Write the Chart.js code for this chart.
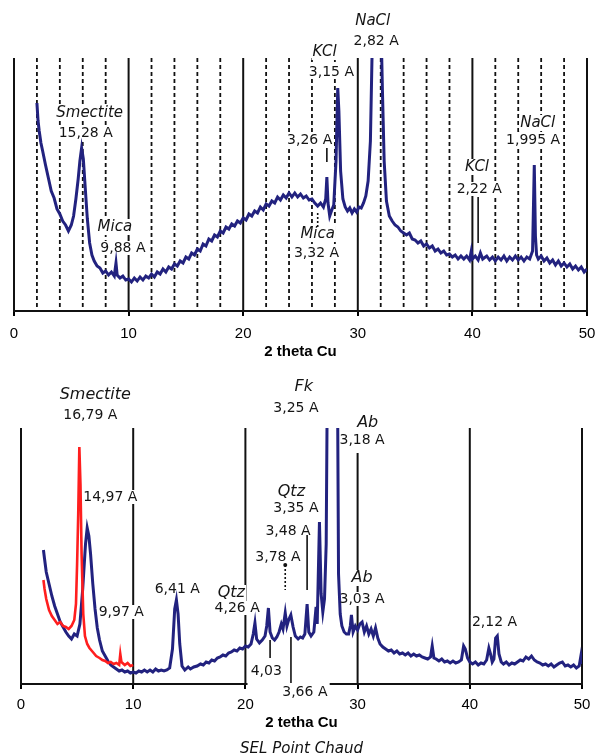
<!DOCTYPE html>
<html>
<head>
<meta charset="utf-8">
<script src="https://cdn.jsdelivr.net/npm/chart.js@4.4.1/dist/chart.umd.min.js"></script>
<style>
  html, body { margin: 0; padding: 0; background: #fff; }
  #top { position: absolute; left: 0; top: 0; width: 597px; height: 360px; }
  #bot { position: absolute; left: 0; top: 360px; width: 597px; height: 395px; }
</style>
</head>
<body>
<div id="top"><canvas id="topChart"></canvas></div>
<div id="bot"><canvas id="botChart"></canvas></div>
<script>
// x axis ticks (2 theta, degrees)
const xTicks = [0, 10, 20, 30, 40, 50];
const topDashed = [2, 4, 6, 8, 12, 14, 16, 18, 22, 24, 26, 28, 32, 34, 36, 38, 42, 44, 46, 48];

// upper pattern (salt sample), counts in arbitrary units
const topTheta = [2.0, 2.1, 2.2, 2.35, 2.5, 2.75, 3.0, 3.25, 3.5, 3.75, 4.0, 4.25, 4.5, 4.75, 5.0, 5.2, 5.4, 5.6, 5.75, 5.9,
  6.05, 6.2, 6.4, 6.6, 6.8, 7.0, 7.25, 7.5, 7.75, 8.0, 8.25, 8.5, 8.75, 8.9, 9.0, 9.25, 9.5, 9.75, 10.0, 10.25,
  10.5, 10.75, 11.0, 11.25, 11.5, 11.75, 12.0, 12.25, 12.5, 12.75, 13.0, 13.25, 13.5, 13.75, 14.0, 14.25, 14.5, 14.75, 15.0, 15.25,
  15.5, 15.75, 16.0, 16.25, 16.5, 16.75, 17.0, 17.25, 17.5, 17.75, 18.0, 18.25, 18.5, 18.75, 19.0, 19.25, 19.5, 19.75, 20.0, 20.25,
  20.5, 20.75, 21.0, 21.25, 21.5, 21.75, 22.0, 22.25, 22.5, 22.75, 23.0, 23.25, 23.5, 23.75, 24.0, 24.25, 24.5, 24.75, 25.0, 25.25,
  25.5, 25.75, 26.0, 26.25, 26.5, 26.75, 27.0, 27.2, 27.3, 27.4, 27.55, 27.7, 27.9, 28.1, 28.25, 28.35, 28.5, 28.7, 28.9, 29.1,
  29.3, 29.5, 29.7, 29.9, 30.1, 30.3, 30.5, 30.7, 30.9, 31.1, 31.25, 31.5, 31.75, 32.0, 32.15, 32.3, 32.5, 32.75, 33.0, 33.25,
  33.5, 33.75, 34.0, 34.25, 34.5, 34.75, 35.0, 35.25, 35.5, 35.75, 36.0, 36.25, 36.5, 36.75, 37.0, 37.25, 37.5, 37.75, 38.0, 38.25,
  38.5, 38.75, 39.0, 39.25, 39.5, 39.75, 39.9, 40.0, 40.25, 40.5, 40.7, 40.9, 41.25, 41.5, 41.75, 42.0, 42.25, 42.5, 42.75, 43.0,
  43.25, 43.5, 43.75, 44.0, 44.25, 44.5, 44.75, 45.0, 45.25, 45.4, 45.5, 45.6, 45.75, 46.0, 46.25, 46.5, 46.75, 47.0, 47.25, 47.5,
  47.75, 48.0, 48.25, 48.5, 48.75, 49.0, 49.25, 49.5, 49.75, 50.0];
const topCounts = [208, 190, 180, 168, 160, 146, 133, 120, 113, 102, 97, 90, 86, 80, 86, 95, 112, 132, 150, 163,
  152, 126, 92, 68, 56, 50, 45, 43, 38, 40, 36, 39, 35, 48, 36, 33, 35, 31, 32, 29,
  33, 30, 34, 31, 35, 33, 37, 34, 39, 37, 42, 39, 44, 42, 47, 45, 50, 48, 54, 52,
  58, 56, 62, 60, 67, 65, 72, 70, 76, 74, 80, 78, 84, 82, 87, 85, 90, 88, 93, 91,
  97, 95, 100, 98, 104, 101, 107, 105, 110, 108, 114, 111, 116, 113, 118, 114, 118, 114, 117, 113,
  115, 111, 112, 108, 105, 108, 104, 112, 134, 108, 95, 100, 106, 150, 223, 200, 140, 112, 104, 100,
  103, 98, 102, 99, 104, 103, 108, 115, 130, 170, 260, 320, 340, 300, 220, 150, 110, 95, 90, 86,
  84, 80, 78, 76, 78, 72, 71, 68, 70, 65, 67, 63, 65, 60, 62, 58, 60, 56, 57, 54,
  56, 52, 55, 52, 55, 51, 60, 52, 55, 51, 58, 52, 55, 51, 54, 50, 54, 51, 55, 50,
  54, 51, 55, 51, 54, 50, 54, 52, 60, 146, 75, 56, 52, 55, 50, 53, 48, 51, 46, 50,
  45, 48, 44, 47, 42, 45, 41, 44, 39, 42];

// lower pattern, blue trace
const blueTheta = [2.0, 2.1, 2.25, 2.5, 2.75, 3.0, 3.25, 3.5, 3.75, 4.0, 4.25, 4.5, 4.75, 5.0, 5.25, 5.5, 5.75, 5.9, 6.05, 6.2,
  6.4, 6.6, 6.8, 7.0, 7.25, 7.5, 7.75, 8.0, 8.25, 8.5, 8.75, 9.0, 9.25, 9.5, 9.75, 10.0, 10.25, 10.5, 10.75, 11.0,
  11.25, 11.5, 11.75, 12.0, 12.25, 12.5, 12.75, 13.0, 13.25, 13.5, 13.7, 13.85, 14.0, 14.15, 14.35, 14.6, 14.9, 15.1, 15.4, 15.7,
  16.0, 16.25, 16.5, 16.75, 17.0, 17.25, 17.5, 17.75, 18.0, 18.25, 18.5, 18.75, 19.0, 19.25, 19.5, 19.75, 20.0, 20.25, 20.5, 20.7,
  20.85, 21.0, 21.25, 21.5, 21.75, 21.9, 22.05, 22.2, 22.4, 22.6, 22.8, 23.0, 23.2, 23.35, 23.55, 23.7, 23.85, 24.05, 24.25, 24.45,
  24.7, 24.9, 25.1, 25.3, 25.5, 25.65, 25.85, 26.1, 26.3, 26.4, 26.6, 26.75, 26.9, 27.05, 27.2, 27.3, 27.5, 27.7, 27.85, 28.0,
  28.2, 28.3, 28.45, 28.6, 28.8, 29.0, 29.2, 29.35, 29.45, 29.6, 29.8, 30.0, 30.2, 30.4, 30.6, 30.8, 31.0, 31.2, 31.4, 31.6,
  31.8, 32.0, 32.25, 32.5, 32.75, 33.0, 33.25, 33.5, 33.75, 34.0, 34.25, 34.5, 34.75, 35.0, 35.25, 35.5, 35.75, 36.0, 36.25, 36.5,
  36.65, 36.8, 37.0, 37.25, 37.5, 37.75, 38.0, 38.25, 38.5, 38.75, 39.0, 39.25, 39.45, 39.6, 39.8, 40.0, 40.25, 40.5, 40.75, 41.0,
  41.25, 41.5, 41.7, 41.85, 42.0, 42.15, 42.3, 42.45, 42.6, 42.8, 43.0, 43.25, 43.5, 43.75, 44.0, 44.25, 44.5, 44.75, 45.0, 45.25,
  45.5, 45.75, 46.0, 46.25, 46.5, 46.75, 47.0, 47.25, 47.5, 47.75, 48.0, 48.25, 48.5, 48.75, 49.0, 49.25, 49.5, 49.75, 49.9, 50.0];
const blueCounts = [134, 125, 112, 100, 88, 78, 70, 62, 57, 52, 48, 45, 50, 48, 60, 95, 140, 156, 148, 130,
  100, 75, 56, 44, 33, 28, 23, 19, 17, 15, 13, 14, 12, 13, 11, 12, 11, 13, 12, 14,
  12, 14, 12, 15, 13, 14, 13, 14, 16, 35, 75, 84, 70, 40, 18, 14, 17, 15, 17, 18,
  20, 19, 22, 21, 24, 23, 26, 27, 29, 28, 31, 32, 34, 33, 36, 35, 38, 37, 40, 50,
  61, 45, 41, 44, 48, 58, 76, 52, 46, 44, 47, 52, 60, 55, 71, 58, 64, 69, 57, 48,
  45, 47, 46, 50, 80, 52, 48, 52, 77, 60, 162, 90, 72, 85, 140, 300, 330, 310, 300, 320,
  320, 110, 70, 58, 52, 50, 50, 58, 69, 52, 58, 54, 60, 62, 52, 58, 50, 55, 48, 56,
  46, 40, 37, 35, 33, 34, 31, 33, 30, 31, 29, 31, 28, 30, 28, 29, 27, 26, 25, 27,
  38, 26, 25, 23, 25, 22, 23, 21, 23, 21, 22, 24, 38, 35, 26, 22, 20, 22, 19, 21,
  20, 24, 36, 30, 22, 25, 46, 48, 30, 22, 20, 22, 19, 21, 20, 22, 24, 23, 27, 25,
  28, 24, 22, 21, 19, 20, 18, 20, 17, 19, 21, 22, 18, 19, 17, 19, 16, 18, 28, 20];

// lower pattern, red trace (low angles only)
const redTheta = [2.0, 2.1, 2.25, 2.5, 2.75, 3.0, 3.25, 3.5, 3.75, 4.0, 4.25, 4.5, 4.75, 4.9, 5.0, 5.1, 5.2, 5.3, 5.4, 5.55,
  5.7, 5.9, 6.1, 6.4, 6.7, 7.0, 7.25, 7.5, 7.75, 8.0, 8.25, 8.5, 8.75, 8.85, 8.95, 9.25, 9.5, 9.75, 10.0];
const redCounts = [104, 95, 85, 74, 68, 64, 60, 62, 58, 57, 55, 58, 64, 80, 120, 170, 237, 200, 130, 70,
  48, 40, 36, 32, 28, 26, 24, 23, 21, 22, 20, 21, 19, 30, 22, 19, 21, 18, 19];

const pts = (xs, ys) => xs.map((v, i) => ({ x: v, y: ys[i] }));

// annotation texts, placed in data units
const topLabels = [
  { t: 'Smectite', x: 6.6, y: 198, it: true },
  { t: '15,28 A', x: 6.26, y: 178 },
  { t: 'Mica', x: 8.8, y: 84, it: true },
  { t: '9,88 A', x: 9.5, y: 63 },
  { t: '3,26 A', x: 25.8, y: 171 },
  { t: 'Mica', x: 26.5, y: 77, it: true },
  { t: '3,32 A', x: 26.4, y: 58 },
  { t: 'KCl', x: 27.1, y: 259, it: true },
  { t: '3,15 A', x: 27.7, y: 239 },
  { t: 'NaCl', x: 31.3, y: 290, it: true },
  { t: '2,82 A', x: 31.6, y: 270 },
  { t: 'KCl', x: 40.4, y: 144, it: true },
  { t: '2,22 A', x: 40.6, y: 122 },
  { t: 'NaCl', x: 45.7, y: 188, it: true },
  { t: '1,995 A', x: 45.3, y: 171 }
];
const botLabels = [
  { t: 'Smectite', x: 6.62, y: 289, it: true },
  { t: '16,79 A', x: 6.18, y: 269 },
  { t: '14,97 A', x: 7.96, y: 187 },
  { t: '9,97 A', x: 8.94, y: 72 },
  { t: '6,41 A', x: 13.93, y: 95 },
  { t: 'Qtz', x: 18.75, y: 91, it: true },
  { t: '4,26 A', x: 19.27, y: 76 },
  { t: '4,03', x: 21.86, y: 13 },
  { t: '3,66 A', x: 25.3, y: -8 },
  { t: '3,78 A', x: 22.9, y: 127 },
  { t: '3,48 A', x: 23.8, y: 153 },
  { t: 'Qtz', x: 24.1, y: 192, it: true },
  { t: '3,35 A', x: 24.5, y: 176 },
  { t: 'Fk', x: 25.2, y: 297, it: true },
  { t: '3,25 A', x: 24.5, y: 276 },
  { t: 'Ab', x: 30.9, y: 261, it: true },
  { t: '3,18 A', x: 30.4, y: 244 },
  { t: 'Ab', x: 30.4, y: 106, it: true },
  { t: '3,03 A', x: 30.4, y: 85 },
  { t: '2,12 A', x: 42.2, y: 62 }
];

// grid + leader lines for each panel
const topDecor = {
  grid: xTicks.map(v => ({ v: v })).concat(topDashed.map(v => ({ v: v, dash: true }))),
  axis: [[0, 50]],
  labels: topLabels,
  marks: [
    { x: 27.3, y1: 163, y2: 149 },
    { x: 26.5, y1: 98, y2: 83, dash: true },
    { x: 40.5, y1: 114, y2: 68 }
  ],
  numFont: '14px "DejaVu Sans"',
  itFont: 'italic 15px "DejaVu Sans"'
};
const botDecor = {
  grid: [{ v: 0 }, { v: 10 }, { v: 20 }, { v: 30, from: 231 }, { v: 40 }, { v: 50 }],
  axis: [[0, 20.1], [27.6, 50]],
  labels: botLabels,
  marks: [
    { x: 22.2, y1: 44, y2: 26 },
    { x: 24.06, y1: 47, y2: 1 },
    { x: 23.55, y1: 119, y2: 94, dash: true, dot: true },
    { x: 25.5, y1: 149, y2: 94 }
  ],
  numFont: '14px "DejaVu Sans"',
  itFont: 'italic 16px "DejaVu Sans"'
};

const makeDecor = (cfg) => ({
  id: 'decor',
  beforeDatasetsDraw(chart) {
    const { ctx, scales: { x, y } } = chart;
    ctx.save();
    ctx.strokeStyle = '#111';
    cfg.grid.forEach(g => {
      const px = x.getPixelForValue(g.v);
      ctx.lineWidth = g.dash ? 1.8 : 2;
      ctx.setLineDash(g.dash ? [4, 3] : []);
      ctx.beginPath();
      ctx.moveTo(px, y.getPixelForValue(g.from !== undefined ? g.from : y.max));
      ctx.lineTo(px, y.getPixelForValue(0));
      ctx.stroke();
    });
    // white boxes behind the texts break the grid lines
    ctx.setLineDash([]);
    ctx.fillStyle = '#fff';
    cfg.labels.forEach(l => {
      ctx.font = l.it ? cfg.itFont : cfg.numFont;
      const w = ctx.measureText(l.t).width;
      const h = l.it ? 16 : 14;
      ctx.fillRect(x.getPixelForValue(l.x) - w / 2 - 1, y.getPixelForValue(l.y) - h / 2, w + 2, h);
    });
    // x axis line
    ctx.lineWidth = 2;
    const by = chart.chartArea.bottom;
    cfg.axis.forEach(s => {
      ctx.beginPath();
      ctx.moveTo(x.getPixelForValue(s[0]) - 1, by);
      ctx.lineTo(x.getPixelForValue(s[1]) + 1, by);
      ctx.stroke();
    });
    ctx.restore();
  },
  afterDatasetsDraw(chart) {
    const { ctx, scales: { x, y } } = chart;
    ctx.save();
    ctx.strokeStyle = '#111';
    ctx.lineWidth = 1.6;
    cfg.marks.forEach(m => {
      const px = x.getPixelForValue(m.x);
      ctx.setLineDash(m.dash ? [2, 2] : []);
      ctx.beginPath();
      ctx.moveTo(px, y.getPixelForValue(m.y1));
      ctx.lineTo(px, y.getPixelForValue(m.y2));
      ctx.stroke();
      if (m.dot) {
        ctx.fillStyle = '#111';
        ctx.beginPath();
        ctx.arc(px, y.getPixelForValue(m.y1), 2, 0, Math.PI * 2);
        ctx.fill();
      }
    });
    ctx.setLineDash([]);
    ctx.fillStyle = '#151515';
    ctx.textAlign = 'center';
    ctx.textBaseline = 'middle';
    cfg.labels.forEach(l => {
      ctx.font = l.it ? cfg.itFont : cfg.numFont;
      ctx.fillText(l.t, x.getPixelForValue(l.x), y.getPixelForValue(l.y));
    });
    ctx.restore();
  }
});

const xScale = (title, height, titlePad, tickPad) => ({
  type: 'linear',
  min: 0,
  max: 50,
  ticks: { stepSize: 10, color: '#000', padding: tickPad, maxRotation: 0, font: { family: 'Liberation Sans', size: 15 } },
  grid: { drawOnChartArea: false, drawTicks: true, tickLength: 5, color: '#000', lineWidth: 2 },
  border: { display: false },
  title: { display: true, text: title, color: '#000', padding: { top: 0, bottom: titlePad },
    font: { family: 'Liberation Sans', size: 15, weight: 'bold' } },
  afterFit: (s) => {
    s.height = height;
    s.paddingLeft = 0;
    s.paddingRight = 0;
  }
});

new Chart(document.getElementById('topChart'), {
  type: 'line',
  data: {
    datasets: [{
      data: pts(topTheta, topCounts),
      borderColor: '#22227f',
      borderWidth: 3,
      pointRadius: 0,
      tension: 0
    }]
  },
  options: {
    animation: false,
    responsive: true,
    maintainAspectRatio: false,
    layout: { padding: { left: 14, right: 10, top: 58, bottom: 0 } },
    plugins: { legend: { display: false }, tooltip: { enabled: false } },
    scales: {
      x: xScale('2 theta Cu', 49, -1, 9),
      y: { display: false, min: 0, max: 253 }
    }
  },
  plugins: [makeDecor(topDecor)]
});

new Chart(document.getElementById('botChart'), {
  type: 'line',
  data: {
    datasets: [
      { data: pts(redTheta, redCounts), borderColor: '#ff1e1e', borderWidth: 2.6, pointRadius: 0, tension: 0 },
      { data: pts(blueTheta, blueCounts), borderColor: '#22227f', borderWidth: 3, pointRadius: 0, tension: 0 }
    ]
  },
  options: {
    animation: false,
    responsive: true,
    maintainAspectRatio: false,
    layout: { padding: { left: 21, right: 15, top: 68, bottom: 0 } },
    plugins: {
      legend: { display: false },
      tooltip: { enabled: false },
      title: {
        display: true,
        position: 'bottom',
        text: 'SEL Point Chaud',
        color: '#111',
        padding: { top: 0, bottom: -3 },
        font: { family: 'DejaVu Sans', size: 15, style: 'italic', weight: 'normal' }
      }
    },
    scales: {
      x: xScale('2 tetha Cu', 56, 8, 7),
      y: { display: false, min: 0, max: 256 }
    }
  },
  plugins: [makeDecor(botDecor)]
});
</script>
</body>
</html>
